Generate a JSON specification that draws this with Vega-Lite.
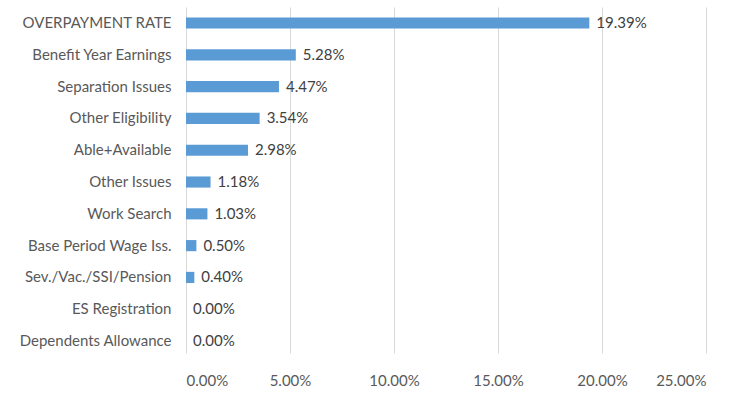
{
  "$schema": "https://vega.github.io/schema/vega-lite/v6.json",
  "width": 520,
  "height": 346,
  "autosize": {"type": "none"},
  "padding": {"left": 186, "top": 7, "right": 44, "bottom": 44},
  "background": "white",
  "config": {"view": {"stroke": null}, "font": "Lato"},
  "data": {"values": [
    {"category": "OVERPAYMENT RATE", "rate": 0.1939},
    {"category": "Benefit Year Earnings", "rate": 0.0528},
    {"category": "Separation Issues", "rate": 0.0447},
    {"category": "Other Eligibility", "rate": 0.0354},
    {"category": "Able+Available", "rate": 0.0298},
    {"category": "Other Issues", "rate": 0.0118},
    {"category": "Work Search", "rate": 0.0103},
    {"category": "Base Period Wage Iss.", "rate": 0.005},
    {"category": "Sev./Vac./SSI/Pension", "rate": 0.004},
    {"category": "ES Registration", "rate": 0.0},
    {"category": "Dependents Allowance", "rate": 0.0}
  ]},
  "encoding": {
    "y": {"field": "category", "type": "nominal", "sort": null,
      "scale": {"paddingInner": 0.65, "paddingOuter": 0.265, "align": 0.62},
      "axis": {"title": null, "ticks": false, "domain": false, "labelPadding": 15,
        "labelFontSize": 15, "labelColor": "#595959", "labelFont": "Lato"}},
    "x": {"field": "rate", "type": "quantitative",
      "scale": {"domain": [0, 0.25], "nice": false},
      "axis": {"title": null, "format": ".2%", "values": [0, 0.05, 0.1, 0.15, 0.2, 0.25],
        "ticks": false, "domain": false, "grid": true, "gridColor": "#d9d9d9", "gridWidth": 1,
        "labelPadding": 20, "labelFontSize": 15, "labelColor": "#595959", "labelFont": "Lato"}}
  },
  "layer": [
    {"mark": {"type": "bar", "color": "#5b9bd5"}},
    {"mark": {"type": "text", "align": "left", "dx": 7, "fontSize": 15, "color": "#404040", "font": "Lato"},
      "encoding": {"text": {"field": "rate", "type": "quantitative", "format": ".2%"}}}
  ]
}
